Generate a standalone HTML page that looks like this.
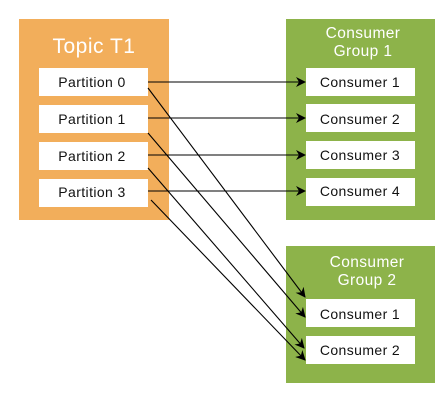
<!DOCTYPE html>
<html><head><style>
body{margin:0;width:442px;height:400px;background:#fff;overflow:hidden}
</style></head><body>
<svg width="442" height="400" xmlns="http://www.w3.org/2000/svg" font-family="Liberation Sans, sans-serif">
<defs><marker id="a" markerWidth="10" markerHeight="10" refX="9" refY="5" orient="auto" markerUnits="userSpaceOnUse"><path d="M0,0 L10,5 L0,10 L3,5 z" fill="#000"/></marker></defs>
<rect x="19" y="19" width="150" height="201" fill="#F2AE5B"/>
<text x="94" y="53" text-anchor="middle" fill="#fff" font-size="21" letter-spacing="0.5">Topic T1</text>
<g fill="#fff"><rect x="39" y="68" width="109" height="28"/><rect x="39" y="105" width="109" height="28"/><rect x="39" y="142" width="109" height="28"/><rect x="39" y="179" width="109" height="28"/></g>
<g font-size="14" fill="#111" text-anchor="middle" letter-spacing="0.4"><text x="92" y="87">Partition 0</text><text x="92" y="124">Partition 1</text><text x="92" y="161">Partition 2</text><text x="92" y="197">Partition 3</text></g>
<rect x="286" y="19" width="149" height="201" fill="#8DB34A"/>
<rect x="286" y="246" width="149" height="137" fill="#8DB34A"/>
<g fill="#fff" font-size="15.5" text-anchor="middle" letter-spacing="0.4"><text x="363" y="38">Consumer</text><text x="363" y="56">Group 1</text><text x="367" y="267">Consumer</text><text x="367" y="285">Group 2</text></g>
<g fill="#fff"><rect x="306" y="68" width="109" height="28"/><rect x="306" y="104" width="109" height="28"/><rect x="306" y="141" width="109" height="28"/><rect x="306" y="178" width="109" height="28"/><rect x="306" y="299" width="109" height="28"/><rect x="306" y="336" width="109" height="28"/></g>
<g font-size="14" fill="#111" text-anchor="middle" letter-spacing="0.4"><text x="360" y="87">Consumer 1</text><text x="360" y="124">Consumer 2</text><text x="360" y="160">Consumer 3</text><text x="360" y="196">Consumer 4</text><text x="360" y="319">Consumer 1</text><text x="360" y="355">Consumer 2</text></g>
<g stroke="#000" stroke-width="1.1" marker-end="url(#a)">
<line x1="148" y1="82" x2="305" y2="82"/><line x1="148" y1="118" x2="305" y2="118"/><line x1="148" y1="155" x2="305" y2="155"/><line x1="148" y1="191" x2="305" y2="191"/>
<line x1="148" y1="88" x2="305" y2="297"/><line x1="148" y1="133" x2="305" y2="317"/><line x1="148" y1="168" x2="304" y2="348"/><line x1="151" y1="200" x2="305" y2="360"/>
</g>
</svg>
</body></html>
